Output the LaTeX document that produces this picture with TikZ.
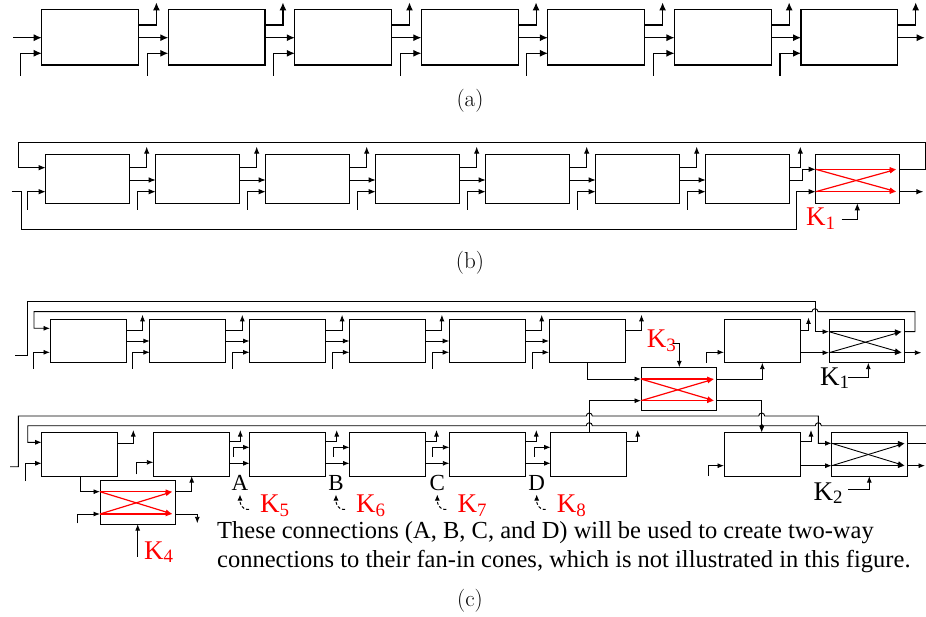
\documentclass[tikz,border=0pt]{standalone}
\usepackage{fontspec}
\newfontfamily\tms{Liberation Serif}
\usetikzlibrary{arrows.meta,calc}
\newcommand{\Klab}[1]{K\textsubscript{#1}}
\newcommand{\Xcross}[4]{%
  \draw[#2] ($(#1.north west)+(0,#3)$) -- ($(#1.north east)+(-2.5,#3)$);
  \draw[#2] ($(#1.north west)+(0,#3)$) -- ($(#1.north east)+(-2.5,#4)$);
  \draw[#2] ($(#1.north west)+(0,#4)$) -- ($(#1.north east)+(-2.5,#3)$);
  \draw[#2] ($(#1.north west)+(0,#4)$) -- ($(#1.north east)+(-2.5,#4)$);}
\begin{document}
\begin{tikzpicture}[x=1pt,y=-1pt,
  ba/.style={draw,line width=1.1pt,inner sep=0pt,outer sep=0pt,anchor=north west,minimum width=96.7pt,minimum height=55.7pt},
  bb/.style={draw,line width=1pt,inner sep=0pt,outer sep=0pt,anchor=north west,minimum width=83.6pt,minimum height=48.3pt},
  bc/.style={draw,line width=1pt,inner sep=0pt,outer sep=0pt,anchor=north west,minimum width=76pt,minimum height=43.4pt},
  aa/.style={line width=1.1pt,-{Latex[length=8pt,width=7pt]}},
  ab/.style={line width=0.95pt,-{Latex[length=7pt,width=5.5pt]}},
  ac/.style={line width=0.9pt,-{Latex[length=6.5pt,width=5pt]}},
  lc/.style={line width=0.9pt},
  xr/.style={red,line width=1.2pt,-{Latex[length=7pt,width=5pt]}},
  xk/.style={black,line width=0.9pt,-{Latex[length=7pt,width=5pt]}},
  captxt/.style={font=\fontsize{23}{26}\selectfont},
  klab/.style={font=\tms\fontsize{27}{30}\selectfont,inner sep=0pt,anchor=base west},
  abcd/.style={font=\tms\fontsize{23}{26}\selectfont,inner sep=0pt,anchor=base},
  txt/.style={font=\tms\fontsize{24.5}{30}\selectfont,inner sep=0pt,anchor=base west},
  dsh/.style={line width=1pt,dash pattern=on 3pt off 2pt,-{Latex[length=6pt,width=5pt]}}
]
\useasboundingbox (0,0) rectangle (926,617);
% ---------------- (a)
\foreach \i in {1,...,7}{\node[ba] (a\i) at ({41.7+126.55*(\i-1)},9.3) {};}
\foreach \i in {1,...,7}{
  \draw[aa] ($(a\i.north east)+(0,15.7)$) -- ++(18,0) -- ++(0,-22.5);
  \draw[aa] ($(a\i.north west)+(-21,66.7)$) -- ++(0,-22.7) -- ++(21,0);
}
\foreach \i/\j in {1/2,2/3,3/4,4/5,5/6,6/7}{\draw[aa] ($(a\i.north east)+(0,28.4)$) -- ($(a\j.north west)+(0,28.4)$);}
\coordinate (ain) at (13,37.7);
\draw[aa] (ain) -- ($(a1.north west)+(0,28.4)$);
\draw[aa] ($(a7.north east)+(0,28.4)$) -- ++(27,0);
\node[captxt] (capa) at (470,101) {(a)};
% ---------------- (b)
\foreach \i in {1,...,7}{\node[bb] (b\i) at ({45.7+110*(\i-1)},155) {};}
\node[bb,minimum width=83.3pt] (k1b) at (815.7,155) {};
\foreach \i in {1,...,6}{\draw[ab] ($(b\i.north east)+(0,12.7)$) -- ++(17.4,0) -- ++(0,-21);}
\draw[ab] ($(b7.north east)+(0,12.7)$) -- ++(11,0) -- ++(0,-21);
\foreach \i in {1,...,7}{\draw[ab] ($(b\i.north west)+(-18.4,55)$) -- ++(0,-18.3) -- ++(18.4,0);}
\foreach \i/\j in {1/2,2/3,3/4,4/5,5/6,6/7}{\draw[ab] ($(b\i.north east)+(0,25)$) -- ($(b\j.north west)+(0,25)$);}
\draw[ab] ($(b7.north east)+(0,25)$) -- ++(13.4,0) |- ($(k1b.north west)+(0,14.3)$);
\draw[ab] ($(k1b.north east)+(0,14.3)$) -- (925,169.3) -- (925,142.3) -- (18.3,142.3) |- ($(b1.north west)+(0,12.7)$);
\draw[ab] (11.7,191.7) -- (21,191.7) -- (21,229) -| (796.7,191.7) -- ($(k1b.north west)+(0,36.7)$);
\draw[ab] ($(k1b.north east)+(0,36.7)$) -- ++(24.3,0);
\Xcross{k1b}{xr}{14.3}{36.7}
\node[klab,red] (K1b) at (806,226) {\Klab{1}};
\draw[ab] ($(k1b.south west)+(26,16)$) -- ++(15.6,0) -- ++(0,-16);
\node[captxt] (capb) at (470,263) {(b)};
% ---------------- (c) top row
\foreach \i in {1,...,6}{\node[bc] (c\i) at ({50+99.8*(\i-1)},319.3) {};}
\node[bc] (c7) at (724,319.3) {};
\node[bc,minimum width=75.3pt] (k1c) at (829,319.3) {};
\node[bc,minimum width=75.7pt] (k3) at (641,367.3) {};
\foreach \i in {1,...,6}{\draw[ac] ($(c\i.north east)+(0,10.7)$) -- ++(16.5,0) -- ++(0,-15.2);}
\draw[ac] ($(c7.north east)+(0,10.7)$) -- ++(8.5,0) -- ++(0,-12.5);
\foreach \i/\j in {1/2,2/3,3/4,4/5,5/6}{\draw[ac] ($(c\i.north east)+(0,21.7)$) -- ($(c\j.north west)+(0,21.7)$);}
\foreach \i in {1,...,6}{\draw[ac] ($(c\i.north west)+(-17,49.5)$) -- ++(0,-16.5) -- ++(17,0);}
\draw[ac] ($(c7.north west)+(-17.3,43.4)$) -- ++(0,-10.4) -- ++(17.3,0);
\draw[ac] ($(c7.north east)+(0,33.4)$) -- ($(k1c.north west)+(0,33.4)$);
\draw[ac] ($(c6.south west)+(38.3,0)$) |- ($(k3.north west)+(0,11.7)$);
\draw[ac] ($(k3.north east)+(0,11.7)$) -| ($(c7.south west)+(38.3,0)$);
\draw[ac] (15,355) -- (27.7,355) -- (27.7,301.7) -- (815,301.7) |- ($(k1c.north west)+(0,12.4)$);
\draw[ac] ($(k1c.north east)+(0,12.4)$) -- (915,331.7) -- (915,311.7) -- (818,311.7) arc[start angle=0,end angle=-180,radius=3] -- (34,311.7) |- ($(c1.north west)+(0,9)$);
\draw[ac] ($(k1c.north east)+(0,33.4)$) -- ++(17,0);
\Xcross{k1c}{xk}{12.4}{33.4}
\Xcross{k3}{xr}{11.7}{33.4}
\node[klab] (K1c) at (820,385) {\Klab{1}};
\draw[ac] ($(k1c.south west)+(19.3,14.6)$) -- ++(20,0) -- ++(0,-14.6);
\node[klab,red] (K3) at (646.7,348) {\Klab{3}};
\draw[ac] ($(k3.north west)+(32.3,-24)$) -- ++(6,0) -- ++(0,24);
% ---------------- (c) bottom row
\node[bc] (d1) at (41.7,432.7) {};
\node[bc] (d2) at (153.3,432.7) {};
\foreach \i/\x in {3/249.7,4/349.5,5/449.3,6/550.7}{\node[bc] (d\i) at (\x,432.7) {};}
\node[bc] (d7) at (724,432.7) {};
\node[bc,minimum width=75.6pt] (k2) at (831.7,432.7) {};
\node[bc,minimum width=75pt] (k4) at (100,480.7) {};
\draw[ac] ($(d1.north east)+(0,10.6)$) -- ++(15.6,0) -- ++(0,-13.3);
\foreach \i in {2,...,7}{\draw[ac] ($(d\i.north east)+(0,9)$) -- ++(11,0) -- ++(0,-11.7);}
\foreach \i/\j in {2/3,3/4,4/5,5/6}{\draw[ac] ($(d\i.north east)+(0,30.6)$) -- ($(d\j.north west)+(0,30.6)$);}
\foreach \i in {3,...,6}{\draw[ac] ($(d\i.north west)+(-16.5,24)$) -- ++(0,-9.4) -- ++(16.5,0);}
\draw[ac] ($(d1.north west)+(-16.7,48.3)$) -- ++(0,-17.7) -- ++(16.7,0);
\draw[ac] ($(d2.north west)+(-16.6,41.6)$) -- ++(0,-12) -- ++(16.6,0);
\draw[ac] ($(d7.north west)+(-15.7,43.4)$) -- ++(0,-10.4) -- ++(15.7,0);
\draw[ac] ($(d7.north east)+(0,33)$) -- ($(k2.north west)+(0,33)$);
\draw[ac] ($(d1.south west)+(38.3,0)$) |- ($(k4.north west)+(0,11)$);
\draw[ac] ($(k4.north east)+(0,11)$) -| ($(d2.south west)+(38.4,0)$);
\draw[ac] ($(k4.north east)+(0,33.3)$) -- ++(22.3,0) -- ++(0,9.3);
\draw[ac] ($(k4.north west)+(-22.3,42.6)$) -- ++(0,-9.3) -- ++(22.3,0);
\draw[ac] ($(k4.south west)+(37.7,32.6)$) -- ($(k4.south west)+(37.7,0)$);
\Xcross{k4}{xr}{11}{33.3}
\node[klab,red] (K4) at (144,559) {\Klab{4}};
\draw[ac] ($(d6.north west)+(38.6,0)$) |- ($(k3.north west)+(0,33.4)$);
\draw[ac] ($(k3.north east)+(0,33.4)$) -| ($(d7.north west)+(37.7,0)$);
\draw[ac] (10,466.7) -- (18.3,466.7) -- (18.3,416) -- (586.3,416) arc[start angle=180,end angle=360,radius=3] -- (758.7,416) arc[start angle=180,end angle=360,radius=3] -- (818.3,416) |- ($(k2.north west)+(0,10.6)$);
\draw[ac] (926,425.7) -- (821.3,425.7) arc[start angle=0,end angle=-180,radius=3] -- (592.3,425.7) arc[start angle=0,end angle=-180,radius=3] -- (27.7,425.7) |- ($(d1.north west)+(0,9.6)$);
\fill (761.7,425.7) circle[radius=1.8];
\draw[lc] ($(k2.north east)+(0,10.6)$) -- (926,443.3);
\draw[ac] ($(k2.north east)+(0,33)$) -- (925,465.7);
\Xcross{k2}{xk}{10.6}{33}
\node[klab] (K2) at (813.3,500) {\Klab{2}};
\draw[ac] ($(k2.south west)+(16.6,13.3)$) -- ++(21,0) -- ++(0,-13.3);
\foreach \n/\x/\k in {A/240/5,B/336/6,C/437.3/7,D/536.7/8}{
  \node[abcd] (l\n) at (\x,490) {\n};
  \node[klab,red] (K\k) at (\x+20,512.5) {\Klab{\k}};
  \draw[dsh] ($(l\n.base)+(9,19.5)$) .. controls +(-8,0) and +(0,9) .. ($(l\n.base)+(0,4.5)$);
}
\node[txt] (t1) at (217,538) {These connections (A, B, C, and D) will be used to create two-way};
\node[txt] (t2) at (217,567) {connections to their fan-in cones, which is not illustrated in this figure.};
\node[captxt] (capc) at (470,601) {(c)};
\end{tikzpicture}
\end{document}
